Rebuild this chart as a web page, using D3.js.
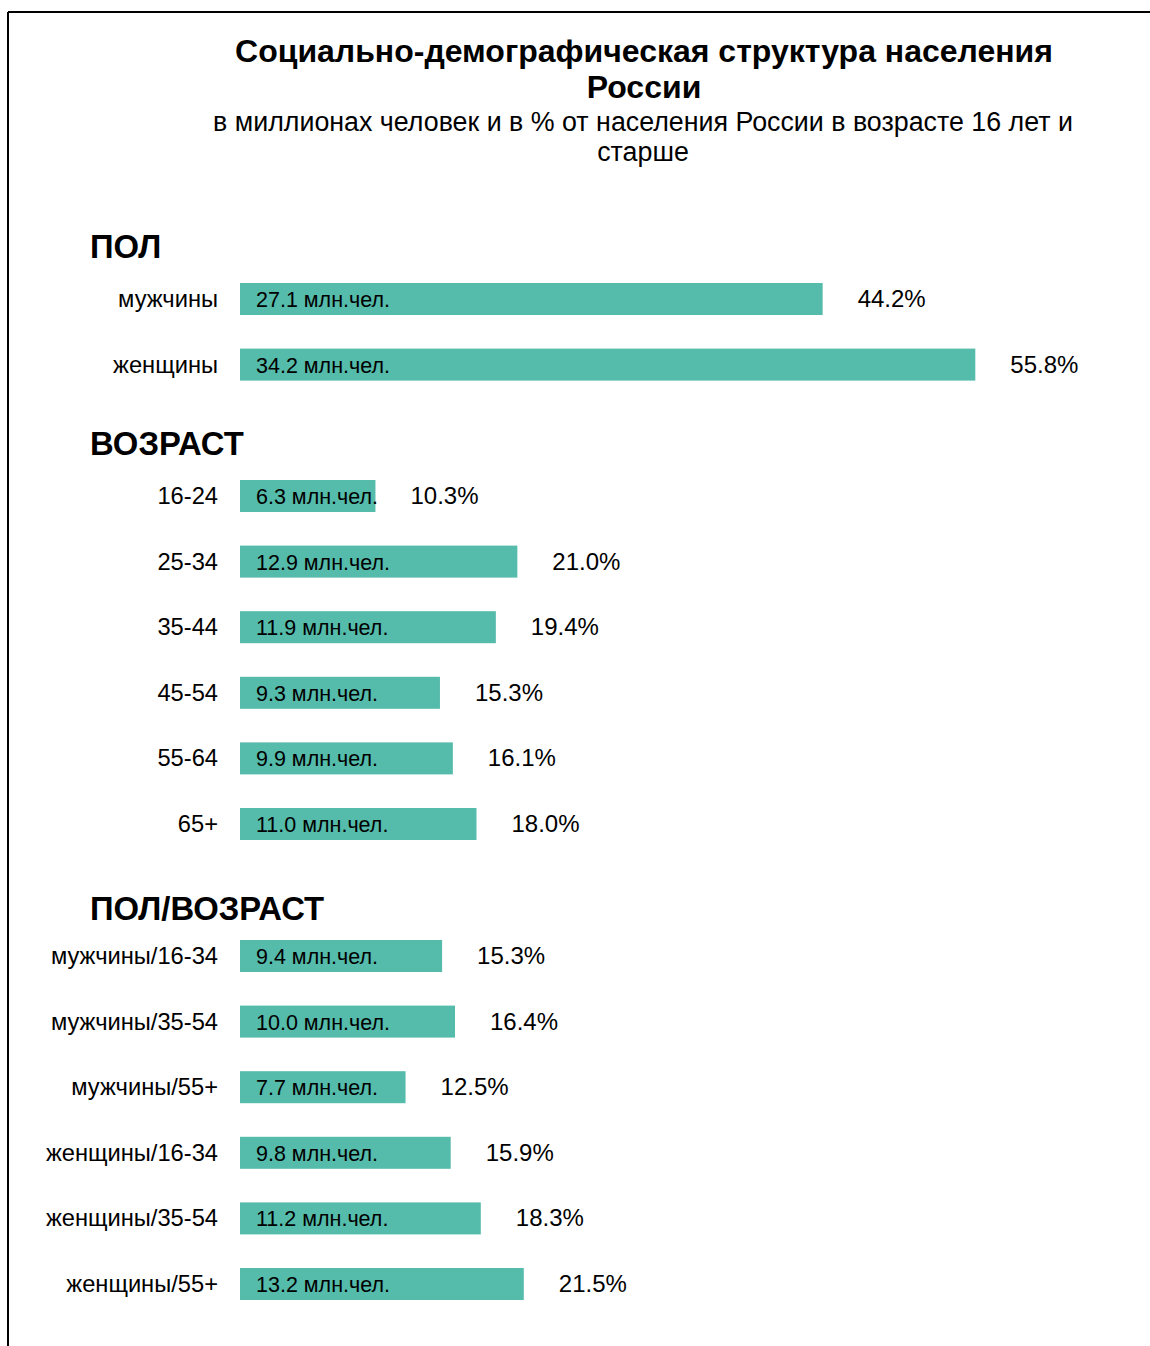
<!DOCTYPE html>
<html>
<head>
<meta charset="utf-8">
<style>
body {
    margin: 0;
    background: #fff;
}
text {
    font-family: "Liberation Sans", Arial, Helvetica, sans-serif;
    fill: #000;
}
.title { font-size: 32px; font-weight: bold; }
.subtitle { font-size: 26.8px; }
.section { font-size: 32.8px; font-weight: bold; }
.cat { font-size: 23.7px; }
.inner { font-size: 21.5px; }
.pct { font-size: 24px; }
</style>
</head>
<body>
<script src="https://d3js.org/d3.v7.min.js"></script>
<script>
// data
var sections = ["ПОЛ", "ВОЗРАСТ", "ПОЛ/ВОЗРАСТ"];

var sexCats = ["мужчины", "женщины"];
var sexValues = [27.1, 34.2];
var sexPct = [44.2, 55.8];

var ageCats = ["16-24", "25-34", "35-44", "45-54", "55-64", "65+"];
var ageValues = [6.3, 12.9, 11.9, 9.3, 9.9, 11.0];
var agePct = [10.3, 21.0, 19.4, 15.3, 16.1, 18.0];

var sexAgeCats = ["мужчины/16-34", "мужчины/35-54", "мужчины/55+",
                  "женщины/16-34", "женщины/35-54", "женщины/55+"];
var sexAgeValues = [9.4, 10.0, 7.7, 9.8, 11.2, 13.2];
var sexAgePct = [15.3, 16.4, 12.5, 15.9, 18.3, 21.5];

var titleLines = ["Социально-демографическая структура населения", "России"];
var subtitleLines = ["в миллионах человек и в % от населения России в возрасте 16 лет и", "старше"];

var W = 1150, H = 1346;
var barColor = "#55bbaa";

var svg = d3.select("body").append("svg")
    .attr("width", W)
    .attr("height", H);

// frame (top + left edges only, as in the original)
svg.append("line").attr("x1", 8).attr("y1", 12).attr("x2", W).attr("y2", 12)
    .attr("stroke", "#000").attr("stroke-width", 2);
svg.append("line").attr("x1", 8).attr("y1", 12).attr("x2", 8).attr("y2", H)
    .attr("stroke", "#000").attr("stroke-width", 2);

// titles
svg.append("g").selectAll("text")
    .data(titleLines)
    .enter().append("text")
    .attr("class", "title")
    .attr("x", 644)
    .attr("y", function(d, i) { return 62 + i * 36; })
    .attr("text-anchor", "middle")
    .text(function(d) { return d; });

svg.append("g").selectAll("text")
    .data(subtitleLines)
    .enter().append("text")
    .attr("class", "subtitle")
    .attr("x", 643)
    .attr("y", function(d, i) { return 131 + i * 30; })
    .attr("text-anchor", "middle")
    .text(function(d) { return d; });

var x = d3.scaleLinear()
    .domain([0, 40])
    .range([240, 240 + 40 * 21.5]);

var rowStep = 65.6, barH = 32;

var blocks = [
    {name: sections[0], cats: sexCats, vals: sexValues, pct: sexPct, head: 258, first: 299},
    {name: sections[1], cats: ageCats, vals: ageValues, pct: agePct, head: 455, first: 496},
    {name: sections[2], cats: sexAgeCats, vals: sexAgeValues, pct: sexAgePct, head: 920, first: 956}
];

blocks.forEach(function(b) {
    var g = svg.append("g");

    g.append("text")
        .attr("class", "section")
        .attr("x", 90)
        .attr("y", b.head)
        .text(b.name);

    var y = d3.scalePoint()
        .domain(b.cats)
        .range([b.first, b.first + rowStep * (b.cats.length - 1)]);

    var rows = g.selectAll(".row")
        .data(b.cats.map(function(c, i) { return {cat: c, v: b.vals[i], p: b.pct[i]}; }))
        .enter().append("g")
        .attr("class", "row")
        .attr("transform", function(d) { return "translate(0," + y(d.cat) + ")"; });

    rows.append("rect")
        .attr("x", x(0))
        .attr("y", -barH / 2)
        .attr("width", function(d) { return x(d.v) - x(0); })
        .attr("height", barH)
        .attr("fill", barColor);

    rows.append("text")
        .attr("class", "cat")
        .attr("x", 218)
        .attr("y", 8)
        .attr("text-anchor", "end")
        .text(function(d) { return d.cat; });

    rows.append("text")
        .attr("class", "inner")
        .attr("x", x(0) + 16)
        .attr("y", 8)
        .text(function(d) { return d.v.toFixed(1) + " млн.чел."; });

    rows.append("text")
        .attr("class", "pct")
        .attr("x", function(d) { return x(d.v) + 35; })
        .attr("y", 8)
        .text(function(d) { return d.p.toFixed(1) + "%"; });
});
</script>
</body>
</html>
